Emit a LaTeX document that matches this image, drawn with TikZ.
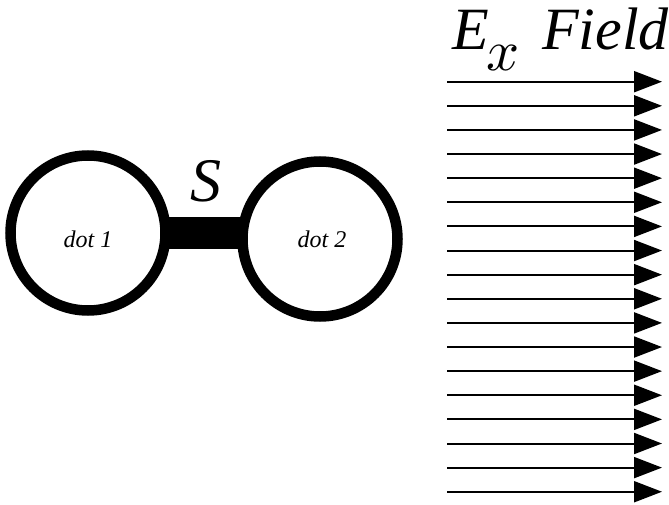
\documentclass[tikz,border=0pt]{standalone}
\usepackage{graphicx}
\usepackage{fontspec}
\setmainfont{Liberation Serif}
\usetikzlibrary{arrows.meta}
\tikzset{
  dotring/.style={circle, draw=black, fill=white, line width=10.5pt, minimum size=155pt, inner sep=0pt},
  dotlabel/.style={anchor=base, inner sep=0pt, font=\fontsize{24}{26}\selectfont\itshape},
  bigtext/.style={anchor=base west, inner sep=0pt, font=\fontsize{60}{62}\selectfont\itshape},
  fieldarrow/.style={line width=2pt, -{Triangle[length=28pt,width=21pt]}},
  bridge/.style={line width=32pt, line cap=butt}
}
\begin{document}
\begin{tikzpicture}[x=1pt,y=-1pt]
\useasboundingbox (0,0) rectangle (669,505);
% bar (drawn first, rings cover its ends)
\coordinate (b1) at (160,233);
\coordinate (b2) at (248,233);
\draw[bridge] (b1) -- (b2);
\node[dotring] (d1) at (88,233) {};
\node[dotring] (d2) at (320,239) {};
\node[dotlabel] (t1) at (88,247) {dot 1};
\node[dotlabel] (t2) at (322,247) {dot 2};
\node[anchor=base, inner sep=0pt, font=\fontsize{62}{64}\selectfont\itshape] (s) at (206,202) {S};
% title
\node[bigtext] (tE) at (452,50) {E};
\node[anchor=base west, inner sep=0pt] (tx) at (486,71) {\scalebox{5.8}{$x$}};
\node[bigtext] (tF) at (542,50) {Field};
% field arrows
\foreach \i in {0,...,17} {
  \coordinate (s\i) at (447,{81.7+\i*24.12});
  \coordinate (e\i) at (662,{81.7+\i*24.12});
  \draw[fieldarrow] (s\i) -- (e\i);
}
\end{tikzpicture}
\end{document}
